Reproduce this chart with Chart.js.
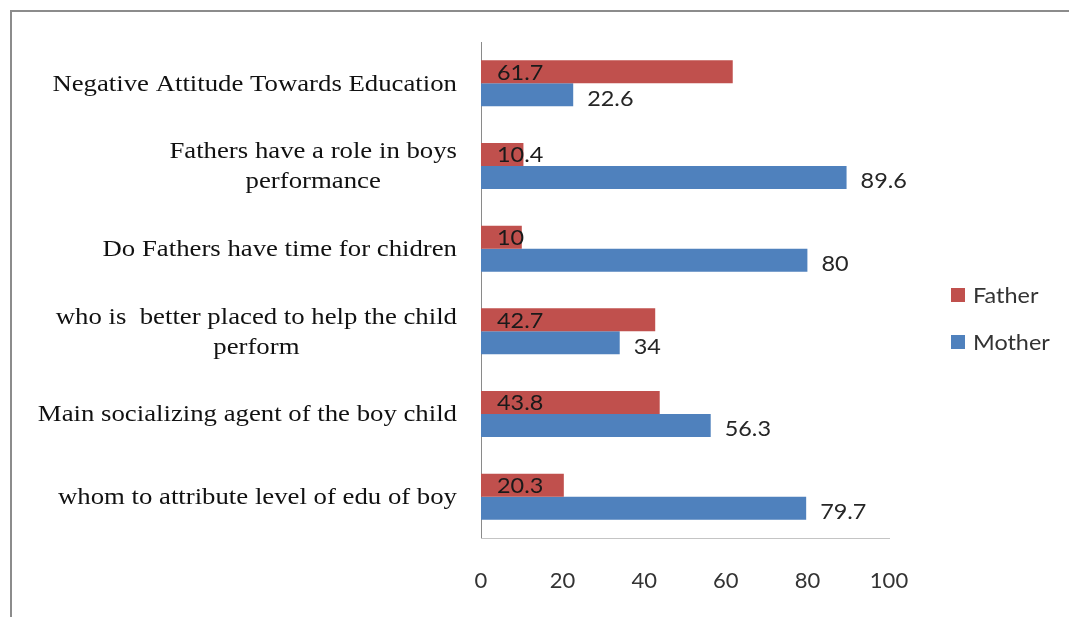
<!DOCTYPE html>
<html>
<head>
<meta charset="utf-8">
<script src="https://cdn.jsdelivr.net/npm/chart.js@4"></script>
<style>
  body { margin: 0; background: #fff; }
  #wrap { width: 1069px; height: 617px; }
</style>
</head>
<body>
<div id="wrap"><canvas id="myChart" width="1069" height="617"></canvas></div>
<script>
// chart data
const categories = [
    'Negative Attitude Towards Education',
    ['Fathers have a role in boys', 'performance'],
    'Do Fathers have time for chidren',
    ['who is  better placed to help the child', 'perform'],
    'Main socializing agent of the boy child',
    'whom to attribute level of edu of boy'
];
const fatherValues = [61.7, 10.4, 10, 42.7, 43.8, 20.3];
const motherValues = [22.6, 89.6, 80, 34, 56.3, 79.7];
const xTicks = [0, 20, 40, 60, 80, 100];

const RED = '#C0504D';
const BLUE = '#4F81BD';
const SANS = 'Lato, "Open Sans", sans-serif';
const STRETCH = 1.115; // source image is a bit wider than tall

// draw text squeezed/stretched horizontally, x is the anchor for align
function stretchText(ctx, txt, x, y, align) {
    ctx.save();
    ctx.translate(x, y);
    ctx.scale(STRETCH, 1);
    ctx.textAlign = align;
    ctx.fillText(txt, 0, 0);
    ctx.restore();
}

// grey frame on top / left like the cropped source image
const framePlugin = {
    id: 'frame',
    beforeDraw(chart) {
        const ctx = chart.ctx;
        ctx.save();
        ctx.fillStyle = '#8c8c8c';
        ctx.fillRect(10, 10, chart.width, 2);
        ctx.fillRect(10, 10, 2, chart.height);
        ctx.restore();
    }
};

// category names, right aligned block, lines centered within it
const catLabelPlugin = {
    id: 'catLabels',
    afterDraw(chart) {
        const ctx = chart.ctx;
        const yScale = chart.scales.y;
        const rightEdge = chart.chartArea.left - 24;
        ctx.save();
        ctx.font = '24px "Liberation Serif", "Times New Roman", serif';
        ctx.fillStyle = '#111';
        ctx.textBaseline = 'middle';
        categories.forEach((cat, i) => {
            const lines = Array.isArray(cat) ? cat : [cat];
            let widest = 0;
            lines.forEach(l => { widest = Math.max(widest, ctx.measureText(l).width * STRETCH); });
            const cx = rightEdge - widest / 2;
            const lh = 30;
            const yc = yScale.getPixelForValue(i) + 1;
            lines.forEach((l, j) => {
                stretchText(ctx, l, cx, yc + (j - (lines.length - 1) / 2) * lh, 'center');
            });
        });
        ctx.restore();
    }
};

// value labels: father inside base, mother outside end
const valueLabelPlugin = {
    id: 'valueLabels',
    afterDatasetsDraw(chart) {
        const ctx = chart.ctx;
        ctx.save();
        ctx.font = '21px ' + SANS;
        ctx.textBaseline = 'middle';
        chart.data.datasets.forEach((ds, di) => {
            const meta = chart.getDatasetMeta(di);
            meta.data.forEach((bar, i) => {
                const txt = String(ds.data[i]);
                if (di === 0) {
                    ctx.fillStyle = '#1a1a1a';
                    stretchText(ctx, txt, bar.base + 16, bar.y + 1, 'left');
                } else {
                    ctx.fillStyle = '#262626';
                    stretchText(ctx, txt, bar.x + 14, bar.y + 4, 'left');
                }
            });
        });
        ctx.restore();
    }
};

// legend on the right
const legendPlugin = {
    id: 'sideLegend',
    afterDraw(chart) {
        const ctx = chart.ctx;
        const ys = [295, 342];
        ctx.save();
        ctx.font = '21px ' + SANS;
        ctx.textBaseline = 'middle';
        chart.data.datasets.forEach((ds, i) => {
            ctx.fillStyle = ds.backgroundColor;
            ctx.fillRect(951, ys[i] - 7, 14, 14);
            ctx.fillStyle = '#333';
            stretchText(ctx, ds.label, 973, ys[i] + 1, 'left');
        });
        ctx.restore();
    }
};

const ctx = document.getElementById('myChart');

new Chart(ctx, {
    type: 'bar',
    data: {
        labels: categories,
        datasets: [
            { label: 'Father', data: fatherValues, backgroundColor: RED },
            { label: 'Mother', data: motherValues, backgroundColor: BLUE }
        ]
    },
    options: {
        indexAxis: 'y',
        responsive: false,
        animation: false,
        categoryPercentage: 0.556,
        barPercentage: 1,
        layout: { padding: { top: 42, right: 180, left: 0, bottom: 0 } },
        plugins: {
            legend: { display: false },
            tooltip: { enabled: false }
        },
        scales: {
            y: {
                grid: { display: false },
                border: { display: true, color: '#8a8a8a', width: 1 },
                ticks: { display: false },
                afterFit(scale) { scale.width = 481; }
            },
            x: {
                min: 0,
                max: 100,
                afterBuildTicks(scale) { scale.ticks = xTicks.map(v => ({ value: v })); },
                grid: { display: false, drawTicks: false },
                border: { display: true, color: '#c4c4c4', width: 1 },
                ticks: {
                    padding: 30,
                    color: '#333',
                    font: { family: SANS, size: 22 }
                },
                afterFit(scale) { scale.height = 79; }
            }
        }
    },
    plugins: [framePlugin, catLabelPlugin, valueLabelPlugin, legendPlugin]
});
</script>
</body>
</html>
